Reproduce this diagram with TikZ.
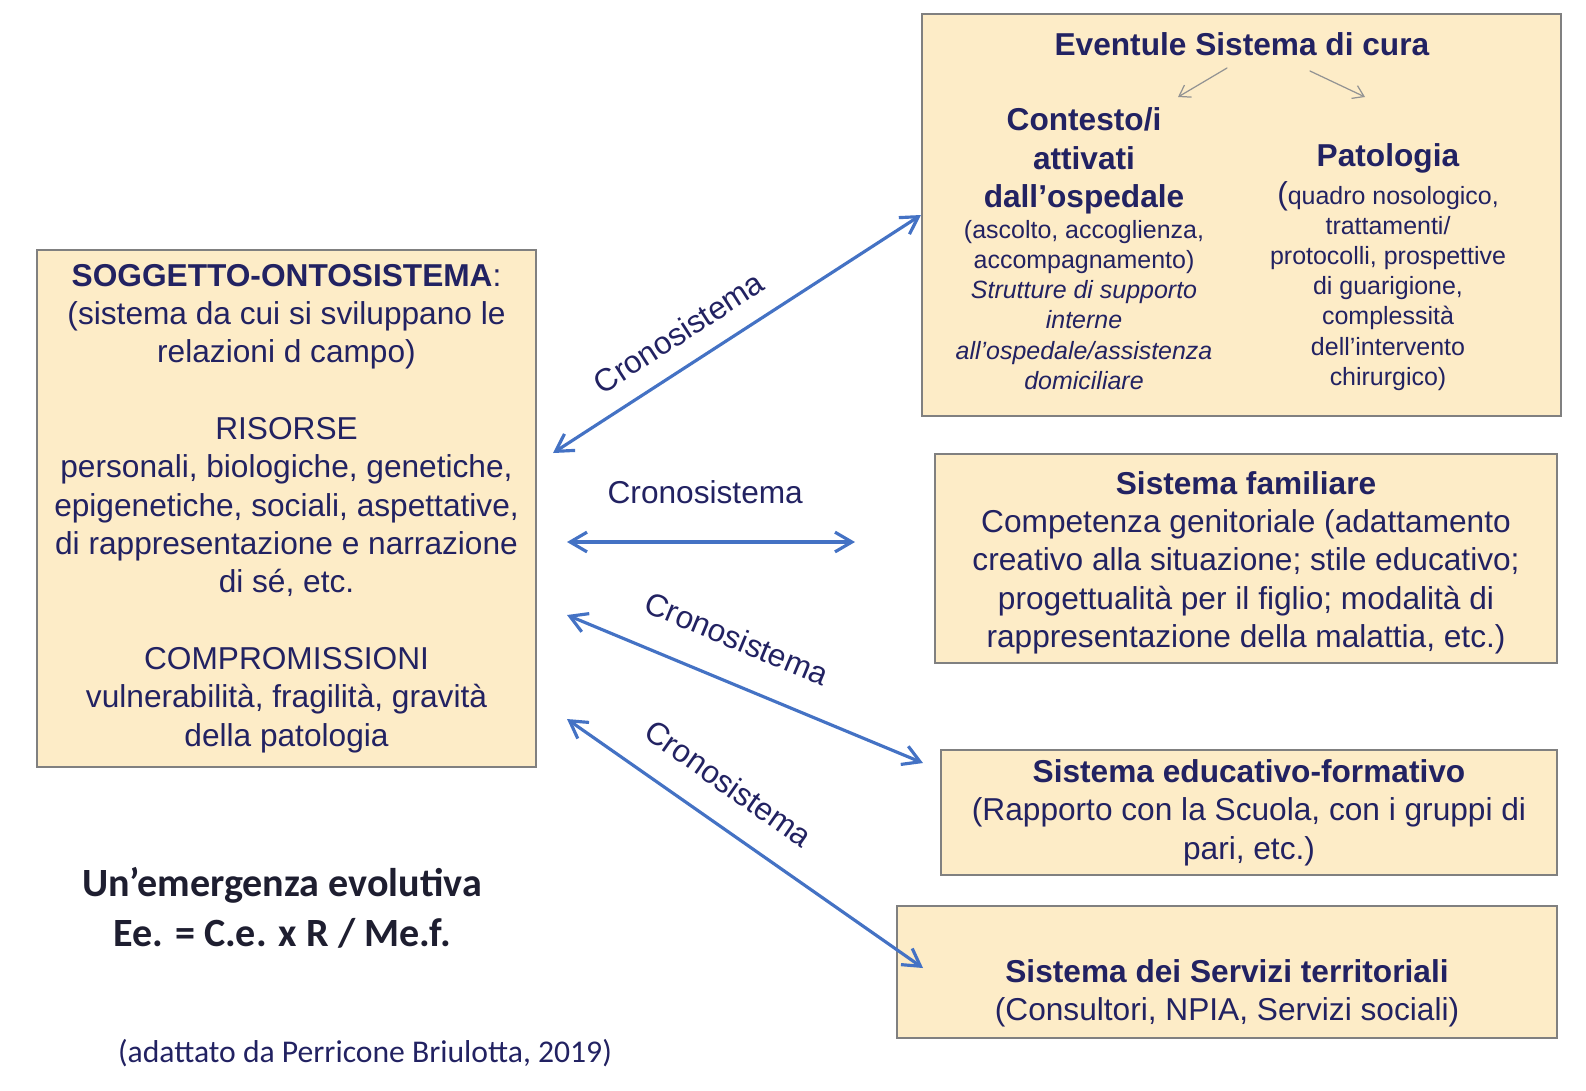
\documentclass[tikz,border=0pt]{standalone}
\usepackage{fontspec}
\setmainfont{Liberation Sans}
\newfontfamily\calib{Carlito}
\usepackage{tikz}
\usetikzlibrary{arrows.meta}
\usepackage{xcolor}
\definecolor{navy}{RGB}{34,34,98}
\definecolor{inkdark}{RGB}{30,30,48}
\definecolor{boxfill}{RGB}{253,236,199}
\definecolor{boxline}{RGB}{128,128,128}
\definecolor{arrowblue}{RGB}{68,114,196}

\begin{document}
\begin{tikzpicture}[x=0.01cm,y=-0.01cm,line cap=round,
  font=\fontsize{9}{10.9}\selectfont,text=navy,
  sysbox/.style={draw=boxline,line width=0.5pt,fill=boxfill,inner sep=0pt},
  small/.style={font=\fontsize{7.1}{8.56}\selectfont},
  link/.style={arrowblue,line width=0.9pt,{Straight Barb[length=4.8pt,width=5.6pt]}-{Straight Barb[length=4.8pt,width=5.6pt]}},
  branch/.style={gray!85,line width=0.35pt,-{Straight Barb[length=3pt,width=4pt]}},
  crono/.style={sloped,inner sep=0pt,text=navy}]
\useasboundingbox (0,0) rectangle (1586,1090);
\node[sysbox,minimum width=4.99cm,minimum height=5.17cm,align=center] (onto) at (286.5,508.5) {\textbf{SOGGETTO-ONTOSISTEMA}:\\(sistema da cui si sviluppano le\\relazioni d campo)\\[10.9pt]RISORSE\\personali, biologiche, genetiche,\\epigenetiche, sociali, aspettative,\\di rappresentazione e narrazione\\di sé, etc.\\[10.9pt]COMPROMISSIONI\\vulnerabilità, fragilità, gravità\\della patologia};
\node[sysbox,minimum width=6.39cm,minimum height=4.02cm] (cura) at (1241.5,215) {};
\node (curatit) at (1242,44) {\textbf{Eventule Sistema di cura}};
\node[align=center,font=\fontsize{9}{11}\selectfont\bfseries] (contit) at (1084,161) {Contesto/i\\attivati\\dall’ospedale};
\node[small,align=center] (contsub) at (1084,305) {(ascolto, accoglienza,\\accompagnamento)\\\textit{Strutture di supporto}\\\textit{interne}\\\textit{all’ospedale/assistenza}\\\textit{domiciliare}};
\node (patit) at (1388,158) {\textbf{Patologia}};
\node[small,align=center] (patsub) at (1388,286) {{\fontsize{9}{8.56}\selectfont(}quadro nosologico,\\trattamenti/\\protocolli, prospettive\\di guarigione,\\complessità\\dell’intervento\\chirurgico)};
\coordinate (br1s) at (1227,68);
\coordinate (br1e) at (1178,97);
\coordinate (br2s) at (1310,71);
\coordinate (br2e) at (1365,97);
\draw[branch] (br1s) -- (br1e);
\draw[branch] (br2s) -- (br2e);
\node[sysbox,minimum width=6.22cm,minimum height=2.09cm] (fam) at (1246,558.5) {};
\node[align=center] (famtxt) at (1246,562.5) {\textbf{Sistema familiare}\\Competenza genitoriale (adattamento\\creativo alla situazione; stile educativo;\\progettualità per il figlio; modalità di\\rappresentazione della malattia, etc.)};
\node[sysbox,minimum width=6.16cm,minimum height=1.25cm,align=center] (edu) at (1249,812.5) {\textbf{Sistema educativo-formativo}\\(Rapporto con la Scuola, con i gruppi di\\pari, etc.)};
\node[sysbox,minimum width=6.6cm,minimum height=1.32cm] (serv) at (1227,972) {};
\node[align=center] (servtxt) at (1227,993) {\textbf{Sistema dei Servizi territoriali}\\(Consultori, NPIA, Servizi sociali)};
\coordinate (lk1) at (553,453);
\coordinate (lk2) at (567,542);
\coordinate (lk3) at (567,615);
\coordinate (lk4) at (567,719);
\coordinate (rk2) at (855,542);
\coordinate (rk3) at (923,763);
\coordinate (rk4) at (923,968);
\draw[link] (lk1) -- (cura.west) node[crono,pos=0.39,above=5.6pt] {Cronosistema};
\draw[link] (lk2) -- (rk2) node[crono,pos=0.48,above=10.5pt] {Cronosistema};
\draw[link] (lk3) -- (rk3) node[crono,pos=0.43,above=8.7pt] {Cronosistema};
\draw[link] (lk4) -- (rk4) node[crono,pos=0.39,above=7.6pt] {Cronosistema};
\node[font=\calib\fontsize{11.4}{14.1}\selectfont\bfseries,text=inkdark,align=center] (formula) at (282,908) {Un’emergenza evolutiva\\Ee. = C.e. x R / Me.f.};
\node[font=\calib\fontsize{9}{10.9}\selectfont] (fonte) at (365,1053) {(adattato da Perricone Briulotta, 2019)};
\end{tikzpicture}
\end{document}
